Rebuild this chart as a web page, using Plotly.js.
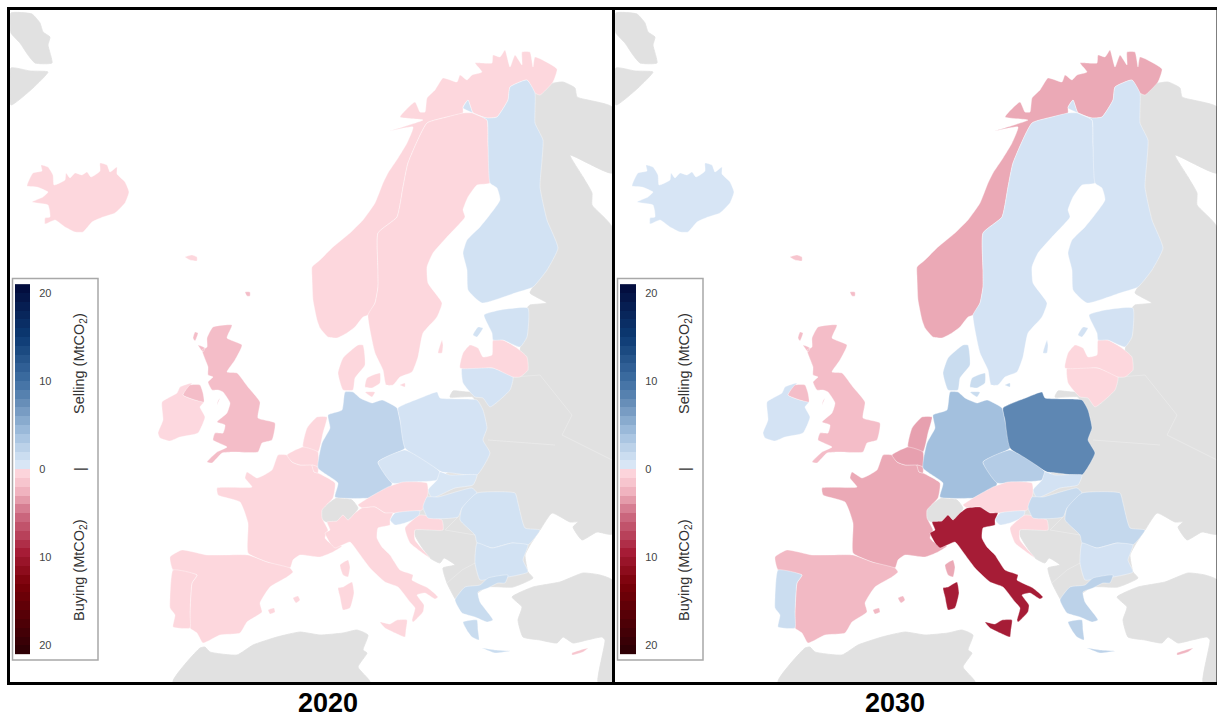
<!DOCTYPE html>
<html><head><meta charset="utf-8">
<script src="https://cdn.plot.ly/plotly-3.0.1.min.js"></script>
<style>html,body{margin:0;padding:0;background:#fff}#c{width:1217px;height:718px}</style>
</head><body><div id="c"></div>
<script>
// Map outlines, in map units ([x, y], y running south).
const East=[[563,82],[575,88],[577,97],[612,107],[612,173],[570,155],[583,177],[592,193],[592,205],[612,227],[612,534],[597,532],[582,540],[573,527],[578,522],[570,522],[552,513],[540,530],[530,545],[525,555],[528,572],[533,578],[513,587],[487,587],[460,605],[457,602],[447,583],[443,568],[455,565],[444,558],[440,563],[430,558],[415,535],[420,500],[470,450],[478,410],[473,397],[450,397],[453,391],[472,392],[480,380],[515,370],[527,308],[530,305],[547,303],[530,293],[533,287],[540,275],[540,240],[530,187],[530,140],[525,110],[530,95],[545,85]];
const Turkey=[[512,597],[533,587],[560,582],[583,573],[600,575],[612,580],[612,682],[598,682],[605,640],[602,637],[587,640],[573,643],[563,637],[557,643],[540,640],[523,637],[518,620],[522,607]];
const Africa=[[173,682],[200,648],[205,647],[210,652],[237,655],[253,645],[277,637],[300,632],[320,635],[343,633],[357,630],[368,635],[363,650],[367,653],[358,667],[370,682]];
const Greenland=[[[11,13],[32,14],[40,23],[43,32],[50,37],[48,45],[52,63],[35,63],[28,55],[20,43],[11,33]],[[11,68],[30,71],[48,72],[33,88],[11,105]]];
const Swiss=[[319,517],[323,508],[337,498],[352,500],[358,508],[355,513],[348,520],[343,515],[337,521],[327,522]];
const Iceland=[[27,186],[33,173],[42,171],[41,165],[48,167],[53,175],[54,185],[65,180],[66,173],[70,178],[75,173],[82,175],[87,172],[91,177],[100,171],[100,163],[107,165],[110,172],[117,167],[117,174],[125,182],[129,192],[125,203],[115,213],[103,217],[92,222],[83,232],[75,232],[65,227],[55,220],[45,224],[45,218],[50,217],[48,205],[32,202],[43,197],[48,192],[37,187]];
const Faroes=[[185,257],[192,255],[197,257],[197,261],[190,260]];
const Norway=[[557,69],[535,57],[533,67],[530,52],[522,52],[522,65],[515,55],[510,67],[505,50],[500,57],[493,55],[492,63],[482,63],[475,63],[482,72],[472,75],[467,80],[460,75],[457,82],[443,78],[435,90],[427,98],[425,112],[420,112],[415,102],[400,117],[423,120],[390,131],[413,127],[407,143],[398,158],[388,173],[383,183],[375,203],[363,220],[350,233],[333,247],[320,260],[312,267],[312,277],[313,300],[317,320],[320,328],[328,337],[337,338],[347,333],[355,327],[363,317],[368,315],[375,303],[378,287],[378,270],[378,233],[397,217],[403,187],[408,163],[427,123],[447,117],[463,113],[463,107],[468,100],[473,113],[487,118],[497,117],[508,100],[510,87],[527,80],[535,93],[540,95],[553,82]];
const Sweden=[[368,315],[375,303],[378,287],[378,270],[378,233],[397,217],[403,187],[408,163],[427,123],[447,117],[463,113],[473,113],[487,120],[488,143],[490,183],[477,185],[468,197],[463,210],[465,217],[447,237],[433,253],[427,267],[428,283],[442,303],[437,317],[423,333],[418,357],[412,372],[400,377],[393,385],[386,385],[383,370],[375,353]];
const Gotland=[[438,353],[442,340],[443,345],[442,353]];
const Finland=[[463,108],[468,100],[473,113],[487,118],[497,117],[508,100],[510,87],[527,80],[535,93],[535,110],[535,123],[543,140],[542,160],[540,187],[547,220],[558,248],[547,270],[533,287],[515,293],[482,303],[468,290],[467,270],[463,253],[467,240],[480,227],[500,200],[497,188],[490,183],[488,143],[487,120],[473,113]];
const Ireland=[[158,433],[163,420],[162,402],[177,393],[180,387],[192,383],[183,395],[195,400],[204,402],[200,407],[205,417],[198,433],[180,437],[170,441],[160,438]];
const NIreland=[[183,395],[190,385],[200,385],[203,393],[204,402],[195,400]];
const Britain=[[213,327],[232,325],[227,338],[242,345],[235,360],[227,372],[237,373],[248,387],[260,402],[258,418],[275,423],[272,440],[262,443],[258,452],[233,452],[222,453],[212,463],[207,462],[217,452],[227,447],[213,440],[215,433],[223,433],[225,425],[217,422],[227,413],[230,403],[223,392],[218,390],[212,390],[208,382],[213,377],[208,375],[208,367],[202,350],[207,347],[207,338]];
const Hebrides=[[195,332],[198,333],[195,341],[193,338]];
const Skye=[[198,345],[205,348],[203,352]];
const Man=[[220,398],[217,405],[218,401]];
const Shetland=[[245,292],[250,292],[250,296],[247,296]];
const France=[[278,455],[272,470],[257,478],[247,472],[245,478],[252,487],[217,488],[218,495],[240,502],[248,523],[248,553],[267,562],[290,568],[293,560],[300,555],[320,557],[333,552],[342,546],[330,543],[325,538],[328,530],[322,518],[322,510],[333,498],[335,483],[318,473],[314,472],[312,465],[300,465],[292,462],[287,455]];
const Corsica=[[340,565],[348,560],[350,567],[348,577],[343,575]];
const Netherlands=[[317,417],[327,417],[323,433],[318,452],[303,447],[307,428]];
const Belgium=[[287,455],[303,447],[318,452],[318,467],[312,465],[300,465],[292,462]];
const Luxembourg=[[312,465],[318,467],[318,473],[314,472]];
const Germany=[[345,392],[353,392],[360,398],[372,403],[382,400],[397,408],[400,420],[405,448],[378,462],[392,483],[388,495],[372,498],[335,497],[338,483],[318,468],[322,443],[330,428],[328,415],[342,410]];
const Jutland=[[338,373],[343,358],[358,345],[363,345],[365,365],[355,378],[353,390],[343,390]];
const Zealand=[[367,378],[380,373],[380,383],[372,388],[365,387]];
const Lolland=[[365,392],[375,392],[372,397]];
const Bornholm=[[400,385],[405,383],[405,387]];
const Poland=[[398,408],[423,397],[437,392],[440,398],[477,400],[483,410],[487,428],[483,440],[490,453],[477,475],[452,473],[442,472],[405,448],[400,420]];
const Lithuania=[[462,368],[493,368],[513,377],[510,390],[490,407],[483,398],[475,397],[463,383]];
const Latvia=[[460,368],[463,353],[470,345],[478,348],[483,357],[492,355],[493,340],[503,340],[517,348],[527,357],[528,370],[520,377],[513,377],[493,368]];
const Estonia=[[484,315],[500,310],[528,308],[527,337],[520,347],[503,340],[493,340],[492,333]];
const Saaremaa=[[473,335],[478,327],[483,328],[477,337]];
const Czechia=[[378,462],[405,450],[428,463],[440,472],[437,480],[415,482],[392,483]];
const Slovakia=[[440,472],[450,475],[477,475],[473,485],[455,488],[432,498],[428,490],[437,480]];
const Austria=[[358,505],[388,487],[403,482],[427,483],[428,493],[422,510],[395,513],[385,513],[375,507],[362,508]];
const Slovenia=[[395,513],[420,511],[418,517],[405,523],[395,525],[390,520]];
const Croatia=[[405,528],[420,515],[442,520],[443,530],[415,530],[415,540],[430,558],[410,543]];
const Hungary=[[423,507],[427,497],[438,497],[472,488],[477,493],[462,508],[458,517],[428,518]];
const Romania=[[477,493],[515,493],[518,503],[525,528],[540,530],[528,545],[512,543],[492,548],[477,543],[475,535],[460,520],[462,508]];
const Bulgaria=[[477,543],[492,548],[512,543],[528,545],[523,560],[528,572],[508,577],[495,578],[480,580],[475,563]];
const GreeceMain=[[455,600],[465,587],[480,585],[488,578],[508,575],[505,583],[498,583],[488,588],[478,592],[480,602],[493,620],[487,622],[475,617],[462,613]];
const Peloponnese=[[463,622],[477,620],[478,630],[479,640],[472,637],[468,632]];
const Crete=[[482,648],[495,650],[510,651],[495,653]];
const Cyprus=[[572,653],[588,648],[583,652],[572,655]];
const Iberia=[[170,557],[182,550],[207,555],[248,555],[267,562],[290,568],[293,572],[287,577],[270,587],[260,603],[262,612],[247,622],[240,633],[220,635],[203,643],[197,633],[190,628],[190,613],[192,583],[197,575],[173,570]];
const Portugal=[[173,570],[197,575],[192,583],[190,613],[190,628],[173,627],[175,615],[170,608],[170,597]];
const Mallorca=[[293,598],[298,596],[300,600],[296,603]];
const Ibiza=[[268,610],[274,608],[275,612],[270,614]];
const Italy=[[327,522],[337,521],[343,515],[348,520],[355,513],[362,508],[375,507],[385,513],[393,513],[390,520],[390,525],[378,528],[377,538],[382,547],[390,555],[400,570],[413,575],[412,580],[428,588],[438,597],[435,599],[425,593],[417,595],[424,605],[423,612],[413,622],[412,620],[415,608],[410,602],[398,587],[385,582],[370,568],[358,552],[350,542],[335,548],[330,543],[325,533],[330,530]];
const Sicily=[[380,622],[390,624],[397,620],[407,620],[406,630],[405,637],[395,633],[385,628]];
const Sardinia=[[338,588],[343,587],[352,582],[354,593],[350,608],[343,610],[340,597]];
const GreyBorders=[[[513,377],[540,375],[572,415],[562,435]],[[488,440],[555,445]],[[562,435],[612,460]],[[458,517],[445,530],[475,535]],[[462,570],[475,563]],[[447,583],[462,570]]];

// Units traded, MtCO2: selling positive, buying negative.
const countries=['Iceland','Faroes','Norway','Sweden','Finland','Ireland','NIreland','UK','France','Corsica','Netherlands','Belgium','Luxembourg','Germany','Denmark','Poland','Lithuania','Latvia','Estonia','Czechia','Slovakia','Austria','Slovenia','Croatia','Hungary','Romania','Bulgaria','Greece','Cyprus','Spain','Portugal','Italy'];
const shapes=[[Iceland],[Faroes],[Norway],[Sweden,Gotland],[Finland],[Ireland],[NIreland],[Britain,Hebrides,Skye,Man,Shetland],[France],[Corsica],[Netherlands],[Belgium],[Luxembourg],[Germany],[Jutland,Zealand,Lolland,Bornholm],[Poland],[Lithuania],[Latvia],[Estonia,Saaremaa],[Czechia],[Slovakia],[Austria],[Slovenia],[Croatia],[Hungary],[Romania],[Bulgaria],[GreeceMain,Peloponnese,Crete],[Cyprus],[Iberia,Mallorca,Ibiza],[Portugal],[Italy,Sicily,Sardinia]];
const values2020=[-0.3,-0.3,-0.3,-0.3,1,-0.2,-2,-2,-0.3,-0.3,-0.3,-0.3,-0.3,2.3,-0.3,0.8,0.8,-0.3,1,0.7,0.5,-0.3,0.8,-0.3,0.9,1,1,1.6,-1.5,-0.3,-0.3,-0.3];
const values2030=[0.6,-1.5,-3,0.8,0.8,0.8,-2,-2,-3,-3,-3.3,-3.3,-3,4,1.6,8,-0.3,-0.3,0.9,3,0.9,-0.3,0.6,-0.3,1.8,2,0.9,2.5,-2.4,-2.2,1.5,-9.5];

const titles=['2020','2030'];
const legendTicks=[-20,-10,0,10,20];
const legendTickText=['20','10','0','10','20'];
const legendSteps=[-20.5,-19.5,-18.5,-17.5,-16.5,-15.5,-14.5,-13.5,-12.5,-11.5,-10.5,-9.5,-8.5,-7.5,-6.5,-5.5,-4.5,-3.5,-2.5,-1.5,-0.5,0.5,1.5,2.5,3.5,4.5,5.5,6.5,7.5,8.5,9.5,10.5,11.5,12.5,13.5,14.5,15.5,16.5,17.5,18.5,19.5,20.5];

const sellStops=[[0,'#dfebf8'],[2,'#c4d8ed'],[4,'#a3c0de'],[8,'#5e87b3'],[10,'#3f6fa3'],[15,'#0c3a73'],[21,'#020a3a']];
const buyStops=[[0,'#fedbe1'],[2,'#f4bdc8'],[3,'#eba9b6'],[5,'#cf6f86'],[9.5,'#a61c36'],[13,'#7a0008'],[21,'#2a0005']];
const GREY='#e1e1e1';

function hex(c){return [1,3,5].map(i=>parseInt(c.substr(i,2),16));}
function colourOf(v){
  const s=v>=0?sellStops:buyStops,a=Math.abs(v);
  for(let i=1;i<s.length;i++){
    if(a<=s[i][0]){
      const t=(a-s[i-1][0])/(s[i][0]-s[i-1][0]),p=hex(s[i-1][1]),q=hex(s[i][1]);
      return 'rgb('+p.map((e,k)=>Math.round(e+(q[k]-e)*t)).join(',')+')';
    }
  }
  return s[s.length-1][1];
}
function poly(list,fill,ax,ay,line){
  const x=[],y=[];
  list.forEach((r,i)=>{ if(i){x.push(null);y.push(null);} r.forEach(p=>{x.push(p[0]);y.push(p[1]);}); x.push(r[0][0]);y.push(r[0][1]); });
  return {type:'scatter',mode:'lines',x,y,fill:'toself',fillcolor:fill,xaxis:ax,yaxis:ay,hoverinfo:'skip',showlegend:false,
    line:{color:line||'rgba(255,255,255,0.45)',width:0.8,shape:'spline',smoothing:0.45}};
}
const W=1217,H=718;
const traces=[];
const panels=[{ax:'x',ay:'y',vals:values2020,lx:'x3',ly:'y3'},{ax:'x2',ay:'y2',vals:values2030,lx:'x4',ly:'y4'}];
panels.forEach(P=>{
  [[East],[Turkey],[Africa],Greenland,[Swiss]].forEach(g=>traces.push(poly(g,GREY,P.ax,P.ay,GREY)));
  const bx=[],by=[];
  GreyBorders.forEach(l=>{l.forEach(p=>{bx.push(p[0]);by.push(p[1]);});bx.push(null);by.push(null);});
  traces.push({type:'scatter',mode:'lines',x:bx,y:by,xaxis:P.ax,yaxis:P.ay,hoverinfo:'skip',showlegend:false,line:{color:'#e9e9e9',width:1}});
  countries.forEach((n,i)=>traces.push(poly(shapes[i],colourOf(P.vals[i]),P.ax,P.ay)));
});
// colour key
const n=[...buyStops].reverse().map(s=>[(21-s[0])/42,s[1]]);
const scale=n.concat(sellStops.map(s=>[(21+s[0])/42,s[1]]));
panels.forEach(P=>{
  traces.push({type:'heatmap',x:[0],y:legendSteps,z:legendSteps.map(v=>[v]),zmin:-21,zmax:21,colorscale:scale,zsmooth:false,showscale:false,hoverinfo:'skip',xaxis:P.lx,yaxis:P.ly});
});
const noAxis={visible:false,fixedrange:true};
const mapY=[1-682/H,1-10/H];
const keyY=[1-656/H,1-282.4/H];
function keyAxis(anchor){return {domain:keyY,range:[-21.2,21.2],anchor,side:'right',tickvals:legendTicks,ticktext:legendTickText,ticks:'outside',ticklen:6,tickcolor:'rgba(0,0,0,0)',showgrid:false,zeroline:false,showline:false,tickfont:{family:'Liberation Sans, Arial, sans-serif',size:11,color:'#444'},fixedrange:true};}
const layout={
  width:W,height:H,margin:{l:0,r:0,t:0,b:0},paper_bgcolor:'#fff',plot_bgcolor:'rgba(0,0,0,0)',showlegend:false,hovermode:false,
  xaxis:{...noAxis,domain:[10/W,612/W],range:[10,612]},
  yaxis:{...noAxis,domain:mapY,range:[682,10]},
  xaxis2:{...noAxis,domain:[615/W,1],range:[10,612]},
  yaxis2:{...noAxis,domain:mapY,range:[682,10],anchor:'x2'},
  xaxis3:{...noAxis,domain:[15/W,30/W],range:[-0.5,0.5],anchor:'y3'},
  yaxis3:keyAxis('x3'),
  xaxis4:{...noAxis,domain:[620/W,636/W],range:[-0.5,0.5],anchor:'y4'},
  yaxis4:keyAxis('x4'),
  shapes:[],annotations:[]
};
const pr=(x0,y0,x1,y1,o)=>Object.assign({type:'rect',xref:'paper',yref:'paper',x0:x0/W,x1:x1/W,y0:1-y0/H,y1:1-y1/H},o);
layout.shapes.push(pr(8.5,8.5,613.5,683.5,{line:{color:'#000',width:3},layer:'above'}));
layout.shapes.push(pr(613.5,8.5,1218,683.5,{line:{color:'#000',width:3},layer:'above'}));
[0,605].forEach(d=>layout.shapes.push(pr(12.5+d,278.5,98+d,660,{line:{color:'#a8a8a8',width:1.5},fillcolor:'#fff',layer:'below'})));
const keyFont={family:'Liberation Sans, Arial, sans-serif',size:14.5,color:'#333'};
[0,605].forEach(d=>{
  const a=(t,y)=>layout.annotations.push({xref:'paper',yref:'paper',x:(80+d)/W,y:1-y/H,text:t,textangle:-90,showarrow:false,font:keyFont,xanchor:'center',yanchor:'middle'});
  a('Selling (MtCO<sub>2</sub>)',364);
  a('Buying (MtCO<sub>2</sub>)',570);
  a('|',469);
});
titles.forEach((t,i)=>layout.annotations.push({xref:'paper',yref:'paper',x:[328,895][i]/W,y:1-702.5/H,text:'<b>'+t+'</b>',showarrow:false,xanchor:'center',yanchor:'middle',font:{family:'Liberation Sans, Arial, sans-serif',size:27,color:'#000'}}));
Plotly.newPlot('c',traces,layout,{displayModeBar:false,staticPlot:true});
</script></body></html>
